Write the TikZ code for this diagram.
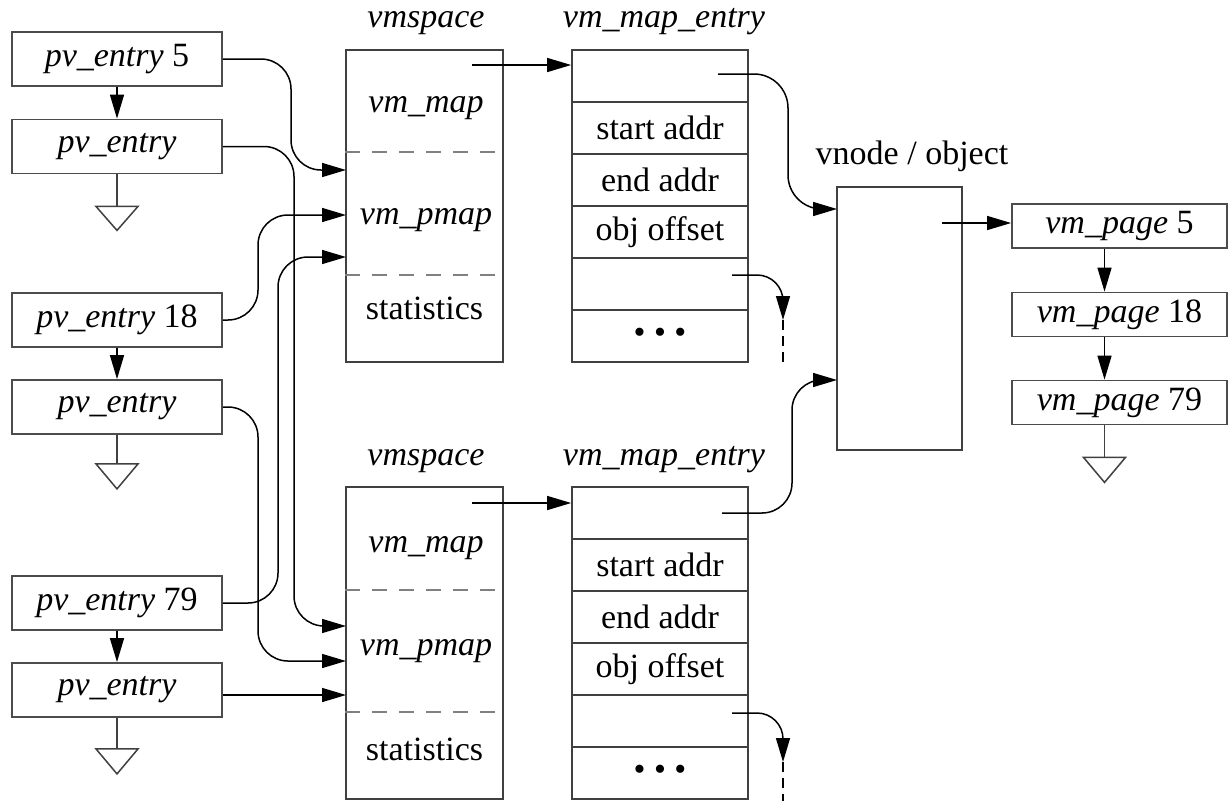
\documentclass[tikz,border=0pt]{standalone}
\usepackage{fontspec}
\setmainfont{Liberation Serif}
\usetikzlibrary{arrows.meta}

\newcommand{\figfont}{\fontsize{34}{39}\selectfont}

\tikzset{
  ptr/.style={-{Triangle[length=24pt,width=14pt]}, line width=1.5pt},
  wire/.style={line width=1.5pt, draw=black!75},
  tail/.style={line width=1.5pt, dash pattern=on 10pt off 6pt},
  sep/.style={draw=black!50, line width=1.7pt, dash pattern=on 15pt off 12pt},
  pvbox/.style={draw=black!70, line width=1.8pt, minimum width=210pt, minimum height=54pt, inner sep=0pt, font=\figfont\itshape},
  pagebox/.style={draw=black!70, line width=1.8pt, minimum width=215pt, minimum height=44pt, inner sep=0pt, font=\figfont},
  spacebox/.style={draw=black!75, line width=1.7pt, minimum width=157pt, minimum height=312pt, inner sep=0pt},
  rowbox/.style={draw=black!75, line width=1.7pt, minimum width=176pt, minimum height=52pt, inner sep=0pt, font=\figfont},
  lbl/.style={inner sep=0pt, text height=0.7em, text depth=0.22em, font=\figfont},
}

\begin{document}
\begin{tikzpicture}[x=1pt, y=-1pt]
\useasboundingbox (0,0) rectangle (1230,801);

% pv entries (left column)
\node[pvbox] (pv5) at (117,59) {pv\_entry\/ \textup{5}};
\node[pvbox] (pvx5) at (117,146.5) {pv\_entry};
\node[pvbox] (pv18) at (117,320) {pv\_entry\/ \textup{18}};
\node[pvbox] (pvx18) at (117,407) {pv\_entry};
\node[pvbox] (pv79) at (117,603) {pv\_entry\/ \textup{79}};
\node[pvbox] (pvx79) at (117,690) {pv\_entry};

\draw[ptr] (pv5) -- (pvx5);
\draw[ptr] (pv18) -- (pvx18);
\draw[ptr] (pv79) -- (pvx79);

% end of list
\draw[wire] (pvx5.south) -- ++(0,32) coordinate (g1);
\draw[wire] (g1) ++(-21,0) -- ++(42,0) -- ++(-21,24) -- cycle;
\draw[wire] (pvx18.south) -- ++(0,29) coordinate (g2);
\draw[wire] (g2) ++(-21,0) -- ++(42,0) -- ++(-21,25) -- cycle;
\draw[wire] (pvx79.south) -- ++(0,31) coordinate (g3);
\draw[wire] (g3) ++(-21,0) -- ++(42,0) -- ++(-21,25) -- cycle;

% vmspace (upper)
\node[lbl, font=\figfont\itshape] (vsa-t) at (426,25) {vmspace};
\node[spacebox] (vsa) at (424.5,206) {};
\draw[sep] ([yshift=-103pt]vsa.north west) -- ([yshift=-103pt]vsa.north east);
\draw[sep] ([yshift=-226pt]vsa.north west) -- ([yshift=-226pt]vsa.north east);
\node[lbl, font=\figfont\itshape] (vsa-map) at (426,110) {vm\_map};
\node[lbl, font=\figfont\itshape] (vsa-pmap) at (426,222) {vm\_pmap};
\node[lbl] (vsa-stat) at (424.5,317) {statistics};

% vmspace (lower)
\node[lbl, font=\figfont\itshape] (vsb-t) at (426,463) {vmspace};
\node[spacebox] (vsb) at (424.5,643) {};
\draw[sep] ([yshift=-104pt]vsb.north west) -- ([yshift=-104pt]vsb.north east);
\draw[sep] ([yshift=-226pt]vsb.north west) -- ([yshift=-226pt]vsb.north east);
\node[lbl, font=\figfont\itshape] (vsb-map) at (426,550) {vm\_map};
\node[lbl, font=\figfont\itshape] (vsb-pmap) at (426,653) {vm\_pmap};
\node[lbl] (vsb-stat) at (424.5,758) {statistics};

% vm_map_entry (upper)
\node[lbl, font=\figfont\itshape] (mea-t) at (664,25) {vm\_map\_entry};
\node[rowbox] (mea1) at (660,76) {};
\node[rowbox] (mea2) at (660,128) {start addr};
\node[rowbox] (mea3) at (660,180) {end addr};
\node[rowbox] (mea4) at (660,232) {obj offset};
\node[rowbox] (mea5) at (660,284) {};
\node[rowbox] (mea6) at (660,336) {\textbullet\ \textbullet\ \textbullet};

% vm_map_entry (lower)
\node[lbl, font=\figfont\itshape] (meb-t) at (664,463) {vm\_map\_entry};
\node[rowbox] (meb1) at (660,513) {};
\node[rowbox] (meb2) at (660,565) {start addr};
\node[rowbox] (meb3) at (660,617) {end addr};
\node[rowbox] (meb4) at (660,669) {obj offset};
\node[rowbox] (meb5) at (660,721) {};
\node[rowbox] (meb6) at (660,773) {\textbullet\ \textbullet\ \textbullet};

% vnode / object
\node[lbl] (vn-t) at (912,162) {vnode / object};
\node[draw=black!75, line width=1.7pt, minimum width=125pt, minimum height=263pt, inner sep=0pt] (vn) at (899.5,318.5) {};

% vm pages
\node[pagebox] (vp5) at (1119.5,226) {\textit{vm\_page} 5};
\node[pagebox] (vp18) at (1119.5,314.5) {\textit{vm\_page} 18};
\node[pagebox] (vp79) at (1119.5,402.5) {\textit{vm\_page} 79};

\draw[ptr] ([xshift=-15pt]vp5.south) -- ([xshift=-15pt]vp18.north);
\draw[ptr] ([xshift=-15pt]vp18.south) -- ([xshift=-15pt]vp79.north);
\draw[wire] ([xshift=-15pt]vp79.south) -- ++(0,32) coordinate (g4);
\draw[wire] (g4) ++(-21,0) -- ++(42,0) -- ++(-21,25) -- cycle;

% pointer ends
\coordinate (vsa-out) at (472,65);
\coordinate (vsb-out) at (472,503);
\coordinate (vsa-in1) at (346,170);
\coordinate (vsa-in2) at (346,215);
\coordinate (vsa-in3) at (346,257);
\coordinate (vsb-in1) at (346,626);
\coordinate (vsb-in2) at (346,661);
\coordinate (vsb-in3) at (346,695);
\coordinate (mea-obj) at (718,74);
\coordinate (meb-obj) at (722,513);
\coordinate (mea-next) at (732,275);
\coordinate (meb-next) at (732,713);
\coordinate (nexta) at (783,320);
\coordinate (nextb) at (783,762);
\coordinate (vn-ina) at (837,209);
\coordinate (vn-inb) at (837,380);
\coordinate (vn-out) at (942,223);

% pv entries -> pmaps
\draw[ptr, rounded corners=30pt] (pv5.east) -| (291,170) -- (vsa-in1);
\draw[ptr, rounded corners=30pt] (pvx5.east) -| (294,626) -- (vsb-in1);
\draw[ptr, rounded corners=30pt] (pv18.east) -| (258,215) -- (vsa-in2);
\draw[ptr, rounded corners=30pt] (pvx18.east) -| (258,661) -- (vsb-in2);
\draw[ptr, rounded corners=30pt] (pv79.east) -| (278,257) -- (vsa-in3);
\draw[ptr] (vsb-in3 -| pvx79.east) -- (vsb-in3);

% vmspace -> map entries
\draw[ptr] (vsa-out) -- (vsa-out -| mea1.west);
\draw[ptr] (vsb-out) -- (vsb-out -| meb1.west);

% map entries -> object, next entry
\draw[ptr, rounded corners=34pt] (mea-obj) -| (788,209) -- (vn-ina);
\draw[ptr, rounded corners=30pt] (meb-obj) -| (792,380) -- (vn-inb);
\draw[ptr, rounded corners=26pt] (mea-next) -| (nexta);
\draw[tail] (nexta) -- ++(0,42);
\draw[ptr, rounded corners=26pt] (meb-next) -| (nextb);
\draw[tail] (nextb) -- ++(0,39);

% object -> pages
\draw[ptr] (vn-out) -- (vn-out -| vp5.west);

\end{tikzpicture}
\end{document}
